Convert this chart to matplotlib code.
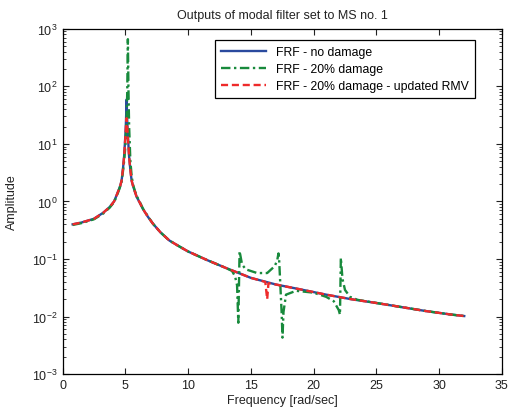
import matplotlib
matplotlib.use("Agg")
import matplotlib.pyplot as plt
from matplotlib.ticker import LogLocator, NullFormatter, MultipleLocator

plt.rcParams['font.family'] = ['Liberation Sans', 'DejaVu Sans']
plt.rcParams['mathtext.fontset'] = 'custom'
plt.rcParams['mathtext.rm'] = 'Liberation Sans'

title = "Outputs of modal filter set to MS no. 1"
xlabel = "Frequency [rad/sec]"
ylabel = "Amplitude"
labels = ["FRF - no damage", "FRF - 20% damage", "FRF - 20% damage - updated RMV"]

# FRF - no damage
freq_nd = [0.8, 1.5, 2.5, 3.25, 3.75, 4.1, 4.25, 4.4, 4.5, 4.6, 4.7, 4.8, 4.9, 5.0, 5.05, 5.1,
           5.15, 5.2, 5.3, 5.4, 5.5, 5.6, 5.75, 5.9, 6.15, 6.4, 6.8, 7.2, 7.8, 8.5, 9.2, 10, 11.5, 13,
           15, 17, 19, 21, 23, 25, 27, 29, 31, 32]
amp_nd = [0.40, 0.43, 0.50, 0.64, 0.80, 1.0, 1.2, 1.45, 1.65, 1.9, 2.3, 3.5, 6.0, 14, 25, 59,
          25, 14, 6.0, 3.5, 2.3, 1.9, 1.5, 1.2, 0.95, 0.74, 0.54, 0.41, 0.29, 0.21, 0.17, 0.135, 0.096, 0.070,
          0.047, 0.036, 0.0295, 0.024, 0.020, 0.0172, 0.0146, 0.0124, 0.0108, 0.0102]

# FRF - 20% damage
freq_d = [0.8, 1.5, 2.5, 3.25, 3.75, 4.1, 4.25, 4.4, 4.5, 4.6, 4.7, 4.8, 4.9, 5.0, 5.1, 5.15,
          5.2, 5.25, 5.3, 5.4, 5.5, 5.6, 5.75, 5.9, 6.15, 6.4, 6.8, 7.2, 7.8, 8.5, 9.2, 10, 11.5, 13,
          13.5, 13.74, 13.9, 14.0, 14.1, 14.3, 14.6, 15.5, 16.3, 16.9, 17.1, 17.2,
          17.25, 17.45, 17.52, 17.6, 17.8, 18.6, 20, 21, 21.6, 22.0, 22.1, 22.17,
          22.3, 22.5, 22.9, 23.5, 25, 27, 29, 31, 32]
amp_d = [0.39, 0.42, 0.49, 0.62, 0.78, 0.97, 1.15, 1.4, 1.6, 1.85, 2.2, 3.2, 5.0, 9.0, 25, 80,
         660, 80, 20, 5.0, 2.8, 2.0, 1.55, 1.25, 0.98, 0.75, 0.55, 0.41, 0.29, 0.21, 0.17, 0.135, 0.096, 0.070,
         0.062, 0.050, 0.035, 0.0078, 0.137, 0.080, 0.066, 0.057, 0.057, 0.075, 0.095, 0.125,
         0.10, 0.012, 0.0043, 0.012, 0.024, 0.028, 0.026, 0.022, 0.0185, 0.013, 0.0108, 0.105,
         0.045, 0.029, 0.022, 0.0195, 0.0172, 0.0146, 0.0124, 0.0108, 0.0102]

# FRF - 20% damage - updated RMV
freq_u = [0.8, 1.5, 2.5, 3.25, 3.75, 4.1, 4.25, 4.4, 4.5, 4.6, 4.7, 4.8, 4.9, 5.0, 5.05, 5.1,
          5.15, 5.2, 5.3, 5.4, 5.5, 5.6, 5.75, 5.9, 6.15, 6.4, 6.8, 7.2, 7.8, 8.5, 9.2, 10, 11.5, 13,
          15, 16.15, 16.3, 16.4, 17, 19, 21, 23, 25, 27, 29, 31, 32]
amp_u = [0.40, 0.43, 0.50, 0.64, 0.80, 1.0, 1.2, 1.45, 1.65, 1.9, 2.3, 3.5, 6.0, 13, 20, 28,
         20, 13, 6.0, 3.5, 2.3, 1.9, 1.5, 1.2, 0.95, 0.74, 0.54, 0.41, 0.29, 0.21, 0.17, 0.135, 0.096, 0.070,
         0.047, 0.040, 0.020, 0.038, 0.036, 0.0295, 0.024, 0.020, 0.0172, 0.0146, 0.0124, 0.0108, 0.0102]

fig = plt.figure(figsize=(5.09, 4.14), dpi=100)
ax = fig.add_axes([0.123, 0.094, 0.863, 0.834])

ax.plot(freq_nd, amp_nd, '-', color='#2a4a9e', lw=1.7, label=labels[0])
ax.plot(freq_d, amp_d, color='#188a3c', lw=1.7, dashes=(4, 1.5, 1, 1.5), label=labels[1])
ax.plot(freq_u, amp_u, color='#ee2a2a', lw=1.7, dashes=(3, 1.6), label=labels[2])

ax.set_yscale('log')
ax.set_xlim(0, 35)
ax.set_ylim(1e-3, 1e3)
ax.xaxis.set_major_locator(MultipleLocator(5))
ax.yaxis.set_major_locator(LogLocator(base=10, numticks=10))
ax.yaxis.set_minor_locator(LogLocator(base=10, subs=range(2, 10), numticks=20))
ax.yaxis.set_minor_formatter(NullFormatter())
ax.tick_params(which='both', direction='in', top=True, right=True, labelsize=9)
ax.tick_params(which='major', length=4, width=0.8, colors='#222222')
ax.tick_params(which='minor', length=2, width=0.6, colors='#222222')
for s in ax.spines.values():
    s.set_linewidth(0.9)

ax.set_title(title, fontsize=9, pad=8, color='#222222')
ax.set_xlabel(xlabel, fontsize=9, labelpad=2, color='#222222')
ax.set_ylabel(ylabel, fontsize=9, labelpad=10, color='#222222')

leg = ax.legend(loc='upper right', bbox_to_anchor=(0.952, 0.985), fontsize=8.8,
                handlelength=3.7, fancybox=False, framealpha=1, edgecolor='black',
                borderpad=0.5, labelspacing=0.4)
leg.get_frame().set_linewidth(0.9)

fig.savefig('out.png', dpi=100)
